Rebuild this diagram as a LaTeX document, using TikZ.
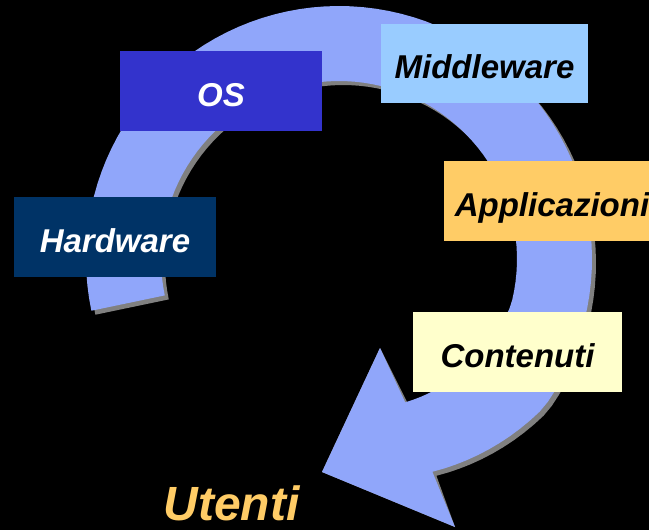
\documentclass[tikz,border=0pt]{standalone}
\usepackage{fontspec}
\setmainfont{Liberation Sans}
\definecolor{bandcol}{HTML}{90A6FA}
\definecolor{shadowcol}{HTML}{808080}
\definecolor{oscol}{HTML}{3333CC}
\definecolor{midcol}{HTML}{99CCFF}
\definecolor{appcol}{HTML}{FFCC66}
\definecolor{hwcol}{HTML}{003366}
\definecolor{concol}{HTML}{FFFFCC}
\newcommand{\ringpath}{plot[domain=168.2:426.3, samples=90, variable=\t] ({339+rout(\t)*cos(\t)},{259+rout(\t)*sin(\t)}) -- (wlow) -- (tip) -- (wup) -- plot[domain=425.2:168.2, samples=90, variable=\t] ({339+rin(\t)*cos(\t)},{259+rin(\t)*sin(\t)}) -- cycle}
\begin{document}
\begin{tikzpicture}[x=1pt, y=-1pt,
  declare function={rout(\t)=253-0.68*max(0,\t-396); rin(\t)=178-0.4*max(0,\t-375);},
  labelbox/.style={inner sep=0pt, minimum height=80pt, text height=30pt, text depth=0pt,
    font=\fontsize{33}{33}\selectfont\bfseries\itshape}]
\fill[black] (0,0) rectangle (649,530);
\useasboundingbox (0,0) rectangle (649,530);
\clip (0,0) rectangle (649,530);
\coordinate (wlow) at (455,527);
\coordinate (tip) at (322,472);
\coordinate (wup) at (380,348);
\fill[shadowcol, shift={(4,4)}] \ringpath;
\fill[bandcol] \ringpath;
\node[labelbox, fill=oscol, text=white, minimum width=202pt] (os) at (221,91) {OS};
\node[labelbox, fill=midcol, text=black, minimum width=207pt, minimum height=79pt] (mid) at (484.5,63.5) {Middleware};
\node[labelbox, fill=appcol, text=black, minimum width=216pt] (app) at (552,201) {Applicazioni};
\node[labelbox, fill=hwcol, text=white, minimum width=202pt] (hw) at (115,237) {Hardware};
\node[labelbox, fill=concol, text=black, minimum width=209pt] (con) at (517.5,352) {Contenuti};
\node[anchor=base, inner sep=0pt, text=appcol, font=\fontsize{48}{48}\selectfont\bfseries\itshape] (ut) at (231.5,520) {Utenti};
\end{tikzpicture}
\end{document}
